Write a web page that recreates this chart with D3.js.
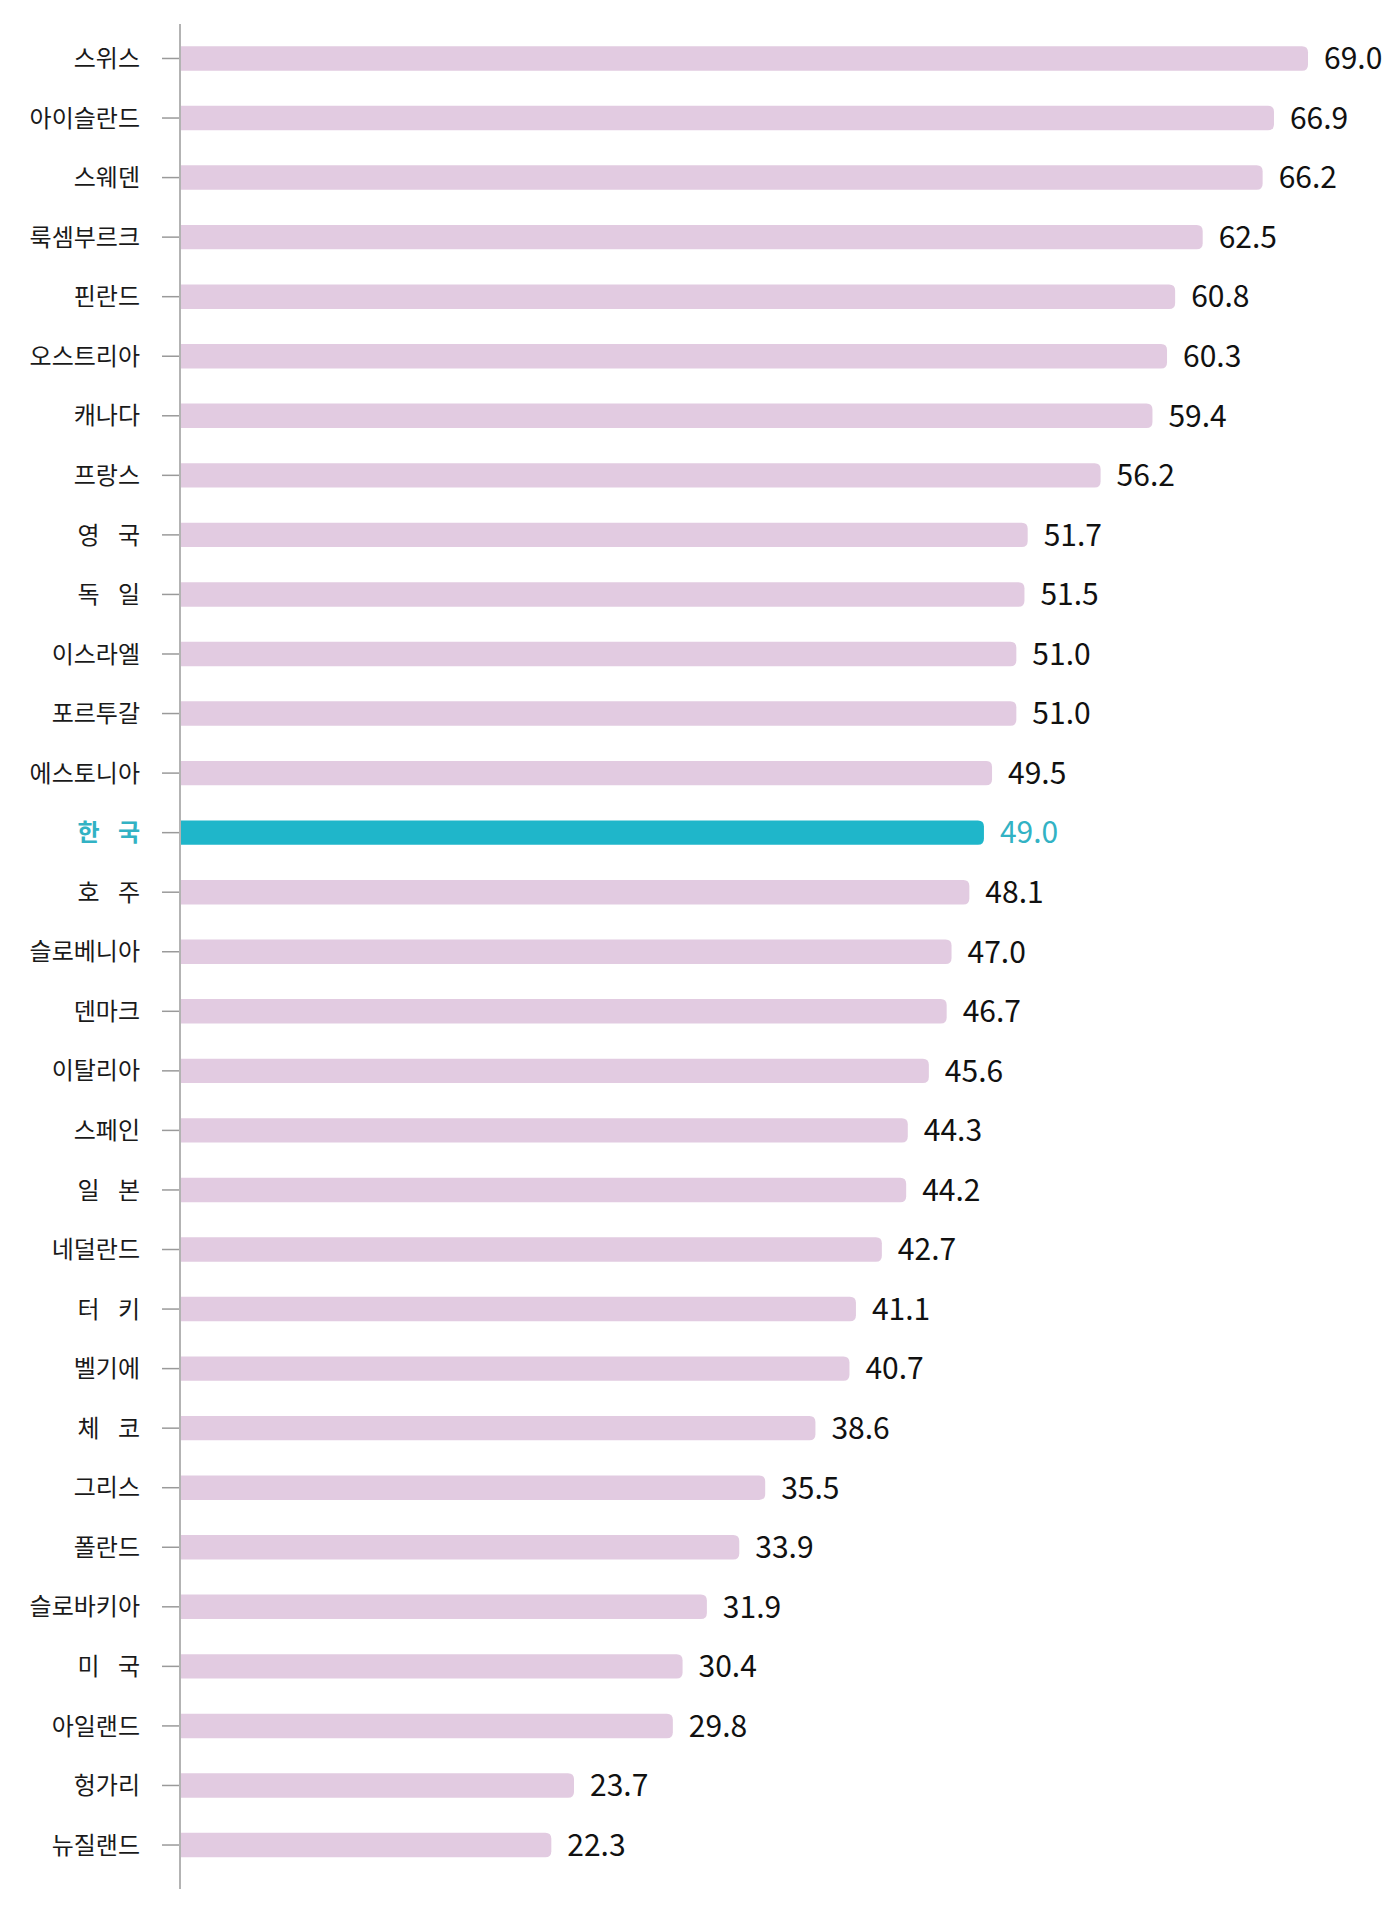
<!DOCTYPE html>
<html>
<head>
<meta charset="utf-8">
<script src="https://cdn.jsdelivr.net/npm/d3@7"></script>
<style>
  body { margin: 0; background: #fff; }
  svg { display: block; }
  .cat { font-family: "Noto Sans CJK KR", sans-serif; font-size: 24px; fill: #1a1a1a; word-spacing: 13px; }
  .val { font-family: "Noto Sans CJK KR", sans-serif; font-size: 30px; fill: #111; }
</style>
</head>
<body>
<div id="chart"></div>
<script>
// Countries, top to bottom
const countries = [
  '스위스', '아이슬란드', '스웨덴', '룩셈부르크', '핀란드', '오스트리아', '캐나다', '프랑스',
  '영 국', '독 일', '이스라엘', '포르투갈', '에스토니아', '한 국', '호 주', '슬로베니아',
  '덴마크', '이탈리아', '스페인', '일 본', '네덜란드', '터 키', '벨기에', '체 코',
  '그리스', '폴란드', '슬로바키아', '미 국', '아일랜드', '헝가리', '뉴질랜드'
];
const values = [
  69.0, 66.9, 66.2, 62.5, 60.8, 60.3, 59.4, 56.2,
  51.7, 51.5, 51.0, 51.0, 49.5, 49.0, 48.1, 47.0,
  46.7, 45.6, 44.3, 44.2, 42.7, 41.1, 40.7, 38.6,
  35.5, 33.9, 31.9, 30.4, 29.8, 23.7, 22.3
];
const highlight = '한 국';

const width = 1400, height = 1910;
const axisX = 180;

const rows = countries.map((c, i) => ({ name: c, value: values[i] }));

const svg = d3.select('#chart').append('svg')
  .attr('width', width)
  .attr('height', height);

const x = d3.scaleLinear().domain([0, 69]).range([190, 1308]);
const y = d3.scaleBand()
  .domain(countries)
  .range([28.7, 1874.8])
  .paddingInner(0.59)
  .paddingOuter(0.295);

const bw = y.bandwidth();

// Bars: flat at the axis, rounded at the end
const r = 6;
svg.append('g')
  .selectAll('path')
  .data(rows)
  .join('path')
  .attr('fill', d => d.name === highlight ? '#1fb6ca' : '#e2cbe1')
  .attr('d', d => {
    const x0 = axisX, x1 = x(d.value), y0 = y(d.name), y1 = y0 + bw;
    return `M${x0},${y0}H${x1 - r}Q${x1},${y0} ${x1},${y0 + r}V${y1 - r}Q${x1},${y1} ${x1 - r},${y1}H${x0}Z`;
  });

// Tick marks
svg.append('g')
  .selectAll('line')
  .data(rows)
  .join('line')
  .attr('x1', axisX - 18)
  .attr('x2', axisX)
  .attr('y1', d => y(d.name) + bw / 2)
  .attr('y2', d => y(d.name) + bw / 2)
  .attr('stroke', '#9a9a9a')
  .attr('stroke-width', 1.5);

// Axis line
svg.append('line')
  .attr('x1', axisX).attr('x2', axisX)
  .attr('y1', 24).attr('y2', 1889)
  .attr('stroke', '#b3b3b3')
  .attr('stroke-width', 2);

// Category labels
svg.append('g')
  .selectAll('text')
  .data(rows)
  .join('text')
  .attr('class', 'cat')
  .attr('x', 140)
  .attr('y', d => y(d.name) + bw / 2)
  .attr('dy', '0.36em')
  .attr('text-anchor', 'end')
  .attr('xml:space', 'preserve')
  .style('fill', d => d.name === highlight ? '#32b2c4' : null)
  .style('font-weight', d => d.name === highlight ? 700 : null)
  .text(d => d.name);

// Value labels
svg.append('g')
  .selectAll('text')
  .data(rows)
  .join('text')
  .attr('class', 'val')
  .attr('x', d => x(d.value) + 16)
  .attr('y', d => y(d.name) + bw / 2)
  .attr('dy', '0.36em')
  .style('fill', d => d.name === highlight ? '#32b2c4' : null)
  .text(d => d.value.toFixed(1));
</script>
</body>
</html>
